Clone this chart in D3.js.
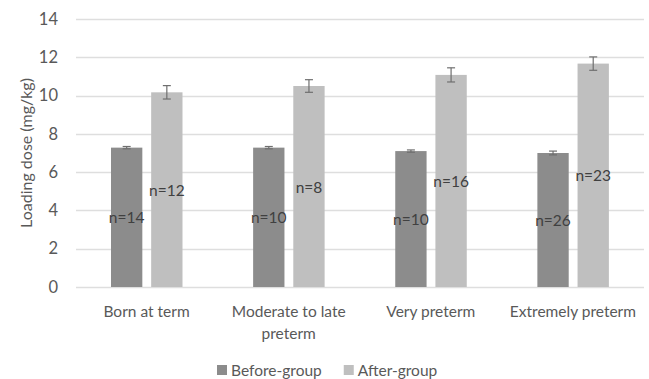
<!DOCTYPE html>
<html>
<head>
<meta charset="utf-8">
<script src="https://cdn.jsdelivr.net/npm/d3@7/dist/d3.min.js"></script>
<style>
  html, body { margin: 0; padding: 0; background: #fff; }
  svg { display: block; font-family: Lato, "Open Sans", sans-serif; }
</style>
</head>
<body>
<svg id="chart" width="649" height="379"></svg>
<script>
// Loading dose by gestational-age group, before and after the change
const categories = ["Born at term", "Moderate to late preterm", "Very preterm", "Extremely preterm"];
const seriesNames = ["Before-group", "After-group"];
const beforeMeans = [7.28, 7.28, 7.1, 7.0];
const afterMeans = [10.17, 10.5, 11.08, 11.67];
const beforeErr = [0.06, 0.06, 0.06, 0.1];
const afterErr = [0.35, 0.33, 0.37, 0.35];
const beforeN = [14, 10, 10, 26];
const afterN = [12, 8, 16, 23];
const yTicks = [0, 2, 4, 6, 8, 10, 12, 14];

const colors = { "Before-group": "#8c8c8c", "After-group": "#bfbfbf" };
const textColor = "#595959";

const svg = d3.select("#chart");
const margin = { left: 76, right: 5, top: 19, bottom: 92 };
const W = 649, H = 379;

const x = d3.scaleBand().domain(categories).range([margin.left - 0.5, W - margin.right]).padding(0);
const inner = d3.scaleBand().domain(seriesNames).range([35.5, 107]).paddingInner(0.22).paddingOuter(0);
const y = d3.scaleLinear().domain([0, 14]).range([287, 19]);

// horizontal gridlines
svg.append("g")
  .selectAll("line")
  .data(yTicks)
  .join("line")
  .attr("x1", margin.left)
  .attr("x2", W - margin.right)
  .attr("y1", d => Math.round(y(d)) + 0.5)
  .attr("y2", d => Math.round(y(d)) + 0.5)
  .attr("stroke", "#dedede")
  .attr("stroke-width", 1.3);

// y axis tick labels
const yAxis = d3.axisLeft(y).tickValues(yTicks).tickSize(0).tickPadding(0);
const gy = svg.append("g").attr("transform", "translate(58,0)").call(yAxis);
gy.select(".domain").remove();
gy.selectAll("text")
  .attr("fill", textColor)
  .style("font-size", "16.5px")
  .style("font-family", "Lato, 'Open Sans', sans-serif");

// y axis title
svg.append("text")
  .attr("transform", `translate(25,${(y(0) + y(14)) / 2}) rotate(-90)`)
  .attr("text-anchor", "middle")
  .attr("dominant-baseline", "central")
  .attr("fill", textColor)
  .style("font-size", "16px")
  .text("Loading dose (mg/kg)");

// flatten into one record per bar
const rows = [];
categories.forEach((c, i) => {
  rows.push({ cat: c, series: "Before-group", mean: beforeMeans[i], err: beforeErr[i], n: beforeN[i] });
  rows.push({ cat: c, series: "After-group", mean: afterMeans[i], err: afterErr[i], n: afterN[i] });
});

const barX = d => x(d.cat) + inner(d.series);
const bw = inner.bandwidth();

// bars
svg.append("g")
  .selectAll("rect")
  .data(rows)
  .join("rect")
  .attr("x", barX)
  .attr("width", bw)
  .attr("y", d => y(d.mean))
  .attr("height", d => y(0) - y(d.mean))
  .attr("fill", d => colors[d.series]);

// error bars
const eb = svg.append("g").attr("stroke", "#6f6f6f").attr("stroke-width", 1.2);
rows.forEach(d => {
  const cx = barX(d) + bw / 2;
  const y1 = y(d.mean + d.err), y2 = y(d.mean - d.err);
  eb.append("line").attr("x1", cx).attr("x2", cx).attr("y1", y1).attr("y2", y2);
  eb.append("line").attr("x1", cx - 4).attr("x2", cx + 4).attr("y1", y1).attr("y2", y1);
  eb.append("line").attr("x1", cx - 4).attr("x2", cx + 4).attr("y1", y2).attr("y2", y2);
});

// sample-size labels centred in each bar
svg.append("g")
  .selectAll("text")
  .data(rows)
  .join("text")
  .attr("x", d => barX(d) + bw / 2)
  .attr("y", d => y(d.mean / 2))
  .attr("text-anchor", "middle")
  .attr("dominant-baseline", "central")
  .attr("fill", "#404040")
  .style("font-size", "15.5px")
  .text(d => "n=" + d.n);

// category labels, wrapped to the band
const gx = svg.append("g");
categories.forEach(c => {
  const t = gx.append("text")
    .attr("x", x(c) + x.bandwidth() / 2)
    .attr("y", 311)
    .attr("text-anchor", "middle")
    .attr("dominant-baseline", "central")
    .attr("fill", textColor)
    .style("font-size", "15.5px");
  const words = c.split(" ");
  let line = [];
  let tspan = t.append("tspan").attr("x", x(c) + x.bandwidth() / 2).attr("dy", 0);
  words.forEach(w => {
    line.push(w);
    tspan.text(line.join(" "));
    if (tspan.node().getComputedTextLength() > 130 && line.length > 1) {
      line.pop();
      tspan.text(line.join(" "));
      line = [w];
      tspan = t.append("tspan").attr("x", x(c) + x.bandwidth() / 2).attr("dy", 22).text(w);
    }
  });
});

// legend
const legend = svg.append("g").attr("transform", "translate(217,370)");
let lx = 0;
seriesNames.forEach(s => {
  const g = legend.append("g").attr("transform", `translate(${lx},0)`);
  g.append("rect").attr("x", 0).attr("y", -5).attr("width", 10).attr("height", 10).attr("fill", colors[s]);
  const t = g.append("text")
    .attr("x", 14)
    .attr("y", 0)
    .attr("dominant-baseline", "central")
    .attr("fill", textColor)
    .style("font-size", "15.5px")
    .text(s);
  lx += 14 + t.node().getComputedTextLength() + 22;
});
</script>
</body>
</html>
